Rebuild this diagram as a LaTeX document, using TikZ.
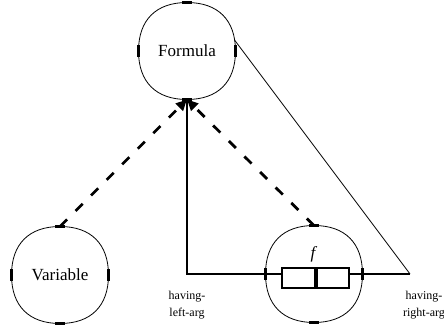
\documentclass[tikz,border=0pt]{standalone}
\usepackage{fontspec}
\setmainfont{Liberation Serif}
\usetikzlibrary{arrows.meta}
\begin{document}
\begin{tikzpicture}[x=1pt,y=-1pt,
  blob/.style={circle, minimum size=97pt, inner sep=0pt, outer sep=0pt, font=\fontsize{17}{20}\selectfont},
  outline/.style={line width=0.8pt},
  porttick/.style={line width=2.3pt},
  dasharrow/.style={line width=2.8pt, dash pattern=on 10pt off 12pt, -{Triangle[length=11pt,width=10pt]}},
  thickline/.style={line width=2pt},
  thinline/.style={line width=0.8pt},
  halfbox/.style={draw, fill=white, line width=2pt, minimum width=32.5pt, minimum height=20pt, inner sep=0pt},
  lab/.style={align=center, font=\fontsize{12}{17}\selectfont, inner sep=0pt}
]
\useasboundingbox (0,0) rectangle (444,328);
\node[blob] (formula) at (187,51) {Formula};
\node[blob] (variable) at (60,275) {Variable};
\node[blob] (fnode) at (314,274) {};
\coordinate (rightpt) at (410,274);
% outlines and ports
\foreach \n in {formula,variable,fnode}{
  \draw[outline] (\n.north) .. controls ([xshift=31pt]\n.north) and ([yshift=31pt]\n.east) .. (\n.east)
     .. controls ([yshift=-31pt]\n.east) and ([xshift=31pt]\n.south) .. (\n.south)
     .. controls ([xshift=-31pt]\n.south) and ([yshift=-31pt]\n.west) .. (\n.west)
     .. controls ([yshift=31pt]\n.west) and ([xshift=-31pt]\n.north) .. (\n.north) -- cycle;
  \draw[porttick] ([xshift=-5pt]\n.north) -- ([xshift=5pt]\n.north);
  \draw[porttick] ([xshift=-5pt]\n.south) -- ([xshift=5pt]\n.south);
  \draw[porttick] ([yshift=-6pt]\n.west) -- ([yshift=6pt]\n.west);
  \draw[porttick] ([yshift=-6pt]\n.east) -- ([yshift=6pt]\n.east);
}
% connectors
\draw[thickline] (formula.south) -- (formula.south |- rightpt) -- (rightpt);
\draw[thinline] ([xshift=-1pt,yshift=11pt]formula.east) -- (rightpt);
\draw[dasharrow] (variable.north) -- (formula.south);
\draw[dasharrow] (fnode.north) -- (formula.south);
% f internals
\node[halfbox] (boxl) at (298.25,278) {};
\node[halfbox, anchor=west] (boxr) at (boxl.east) {};
\node[font=\itshape\fontsize{17}{20}\selectfont, inner sep=0pt] (flab) at (313,254) {f};
% labels
\node[lab] (leftlab) at (187,305) {having-\\left-arg};
\node[lab] (rightlab) at (424,305) {having-\\right-arg};
\end{tikzpicture}
\end{document}
